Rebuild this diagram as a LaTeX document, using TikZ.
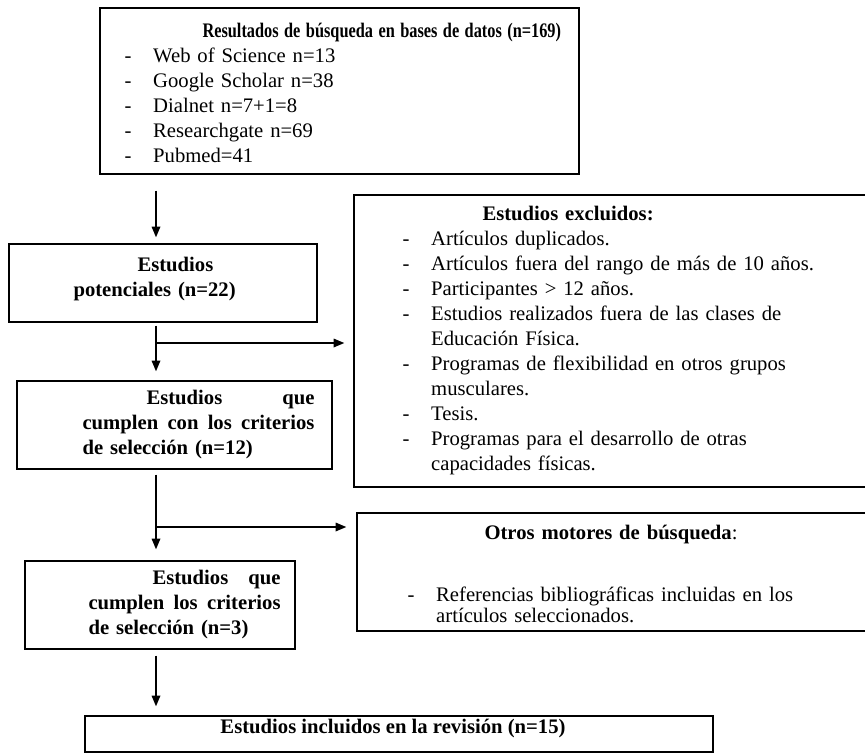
\documentclass[tikz,border=0pt]{standalone}
\usepackage{fontspec}
\setmainfont{Liberation Serif}
\usetikzlibrary{arrows.meta,fit,positioning}

\newcommand{\guion}{\makebox[21.5pt][l]{-}}

\begin{document}
\begin{tikzpicture}[
					x=0.75pt, y=-0.75pt,
					flow box/.style={draw, line width=1.1pt, inner sep=0pt},
					flow text/.style={align=left, inner sep=0pt, font=\fontsize{15.5}{18.75}\selectfont},
					flow bold/.style={flow text, font=\fontsize{15.5}{18.75}\selectfont\bfseries},
					flow arrow/.style={-{Triangle[length=8pt,width=6.5pt]}, line width=0.9pt},
				]
					\useasboundingbox (0,0) rectangle (865,754);

					\node[flow box, fit={(100,8) (579,174)}] (res) {};
					\node[flow box, fit={(9,244) (317,322)}] (pot) {};
					\node[flow box, fit={(17,381) (332,469)}] (crit) {};
					\node[flow box, fit={(25,561) (295,649)}] (sel) {};
					\node[flow box, fit={(85,716) (713,752)}] (incl) {};
					\node[flow box, fit={(354,195) (872,487)}] (excl) {};
					\node[flow box, fit={(357,513) (872,631)}] (otros) {};

					\node[flow text, text width=340pt, anchor=west, xshift=18.75pt, yshift=-1.5pt] (resT) at (res.west) {\hspace*{58.5pt}\scalebox{0.79}[1]{\textbf{Resultados de búsqueda en bases de datos (n=169)}}\\
						\guion Web of Science n=13\\
						\guion Google Scholar n=38\\
						\guion Dialnet n=7+1=8\\
						\guion Researchgate n=69\\
						\guion Pubmed=41};
					\node[flow bold, text width=172.5pt, anchor=west, xshift=48.75pt, yshift=3pt] (potT) at (pot.west) {\hspace*{48pt}Estudios\\ potenciales (n=22)};
					\node[flow bold, text width=174pt, anchor=west, xshift=49.5pt] (critT) at (crit.west) {\hspace*{48pt}Estudios\hfill que\\ cumplen\hfill con\hfill los\hfill criterios\\ de selección (n=12)};
					\node[flow bold, text width=144pt, anchor=west, xshift=48pt] (selT) at (sel.west) {\hspace*{48pt}Estudios\hfill que\\ cumplen\hfill los\hfill criterios\\ de selección (n=3)};
					\node[flow bold, xshift=-4.5pt, yshift=4pt] (inclT) at (incl.center) {Estudios incluidos en la revisión (n=15)};
					\node[flow text, text width=326pt, anchor=west, xshift=36.75pt] (exclT) at (excl.west) {\hspace*{60pt}\textbf{Estudios excluidos:}\\
						\guion Artículos duplicados.\\
						\guion Artículos fuera del rango de más de 10 años.\\
						\guion Participantes > 12 años.\\
						\guion Estudios realizados fuera de las clases de\\
						\hspace*{21.5pt}Educación Física.\\
						\guion Programas de flexibilidad en otros grupos\\
						\hspace*{21.5pt}musculares.\\
						\guion Tesis.\\
						\guion Programas para el desarrollo de otras\\
						\hspace*{21.5pt}capacidades físicas.};
					\node[flow text, text width=315pt, anchor=west, xshift=38.25pt, yshift=-1.5pt] (otrosT) at (otros.west) {\hspace*{57.75pt}\textbf{Otros motores de búsqueda}:\\[27.75pt]
						\guion Referencias bibliográficas incluidas en los\\[-2.5pt]
						\hspace*{21.5pt}artículos seleccionados.};

					\coordinate (spine) at (156,0);
					\coordinate (b1) at (156,343);
					\coordinate (b2) at (155,527);
					\draw[flow arrow, shorten <=12pt, shorten >=4.5pt] (res.south -| spine) -- (pot.north -| spine);
					\draw[flow arrow, shorten <=2.25pt, shorten >=6.75pt] (pot.south -| spine) -- (crit.north -| spine);
					\draw[flow arrow, shorten <=3.75pt, shorten >=8.25pt] (crit.south -| spine) -- (sel.north -| spine);
					\draw[flow arrow, shorten <=4.5pt, shorten >=6.75pt] (sel.south -| spine) -- (incl.north -| spine);
					\draw[flow arrow, shorten >=6.75pt] (b1) -- (b1 -| excl.west);
					\draw[flow arrow, shorten >=7.5pt] (b2) -- (b2 -| otros.west);
				\end{tikzpicture}
\end{document}
